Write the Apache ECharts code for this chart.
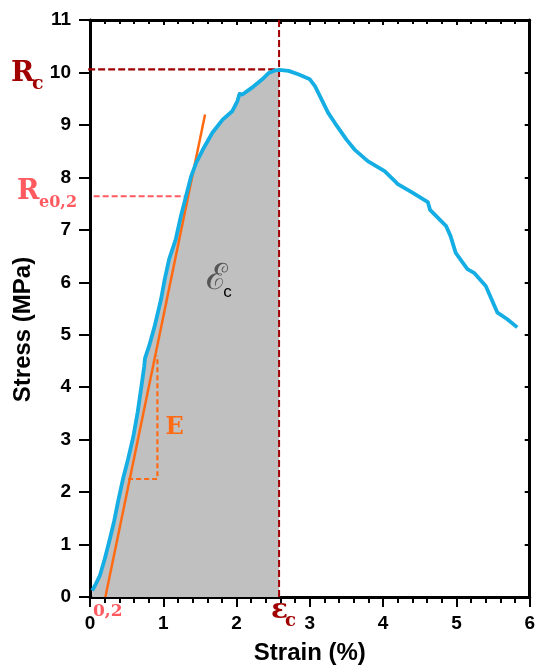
<!DOCTYPE html>
<html>
<head>
    <meta charset="utf-8" />
    <title>Stress-strain</title>
    <script src="https://cdn.jsdelivr.net/npm/echarts@6/dist/echarts.min.js"></script>
    <style>
        html, body { margin: 0; padding: 0; background: #fff; }
        #chart { width: 538px; height: 670px; }
    </style>
</head>
<body>
<div id="chart"></div>
<script type="text/javascript">
    // curve (strain %, stress MPa)
    var strain = [0.03, 0.08, 0.135, 0.2, 0.27, 0.33, 0.38, 0.45, 0.52, 0.59, 0.65, 0.71, 0.74, 0.75, 0.81, 0.88, 0.97, 1.02,
        1.08, 1.17, 1.24, 1.31, 1.38, 1.45, 1.54, 1.67, 1.81, 1.94, 2.01, 2.04, 2.08, 2.21, 2.35, 2.44, 2.53, 2.58,
        2.71, 2.85, 3.0, 3.07, 3.25, 3.34, 3.5, 3.61, 3.79, 4.02, 4.16, 4.2, 4.4, 4.61, 4.64, 4.86, 4.92, 4.99,
        5.15, 5.24, 5.4, 5.56, 5.69, 5.83];
    var stress = [0.12, 0.25, 0.41, 0.72, 1.10, 1.45, 1.80, 2.25, 2.63, 3.05, 3.52, 4.10, 4.40, 4.55, 4.80, 5.15, 5.68, 6.06,
        6.44, 6.82, 7.26, 7.64, 8.02, 8.28, 8.53, 8.85, 9.10, 9.26, 9.45, 9.59, 9.58, 9.71, 9.87, 9.99, 10.04, 10.05,
        10.03, 9.96, 9.87, 9.74, 9.23, 9.04, 8.72, 8.53, 8.31, 8.12, 7.93, 7.87, 7.71, 7.53, 7.38, 7.07, 6.88, 6.56,
        6.25, 6.18, 5.93, 5.42, 5.30, 5.14];

    var ecStrain = 2.58;     // strain at peak
    var rcStress = 10.06;    // peak stress
    var reStress = 7.64;     // 0.2% offset yield
    var reStrain = 1.31;
    var leftRef = -0.025;    // dashed reference at zero strain
    var slopeLine = [[0.21, 0], [1.57, 9.2]];        // modulus line
    var triangle = [[0.52, 2.25], [0.92, 2.25], [0.92, 4.6]];

    var xTicks = [0, 1, 2, 3, 4, 5, 6];
    var yTicks = [0, 1, 2, 3, 4, 5, 6, 7, 8, 9, 10, 11];

    var curve = [];
    var area = [];
    for (var i = 0; i < strain.length; i++) {
        curve.push([strain[i], stress[i]]);
        if (strain[i] <= ecStrain) area.push([strain[i], stress[i]]);
    }

    var darkRed = '#a00000';
    var pink = '#ff5a5f';
    var orange = '#ff6a13';
    var blue = '#14ade4';
    var sans = 'Liberation Sans, Arial, sans-serif';
    var serif = 'DejaVu Serif, serif';

    var myChart = echarts.init(document.getElementById('chart'));

    function dashed(data, color, width, dash, z) {
        return {
            type: 'line', data: data, symbol: 'none', silent: true, clip: false, z: z || 3,
            lineStyle: { color: color, width: width, type: dash }
        };
    }

    myChart.setOption({
        animation: false,
        grid: { left: 90, right: 5, top: 20, bottom: 72 },
        xAxis: [{
            type: 'value', min: xTicks[0], max: xTicks[xTicks.length - 1], interval: 1,
            name: 'Strain (%)', nameLocation: 'middle', nameGap: 44,
            nameTextStyle: { fontFamily: sans, fontWeight: 'bold', fontSize: 24, color: '#000' },
            axisLine: { onZero: false, lineStyle: { color: '#000', width: 3 } },
            axisTick: { length: 10, lineStyle: { color: '#000', width: 2 } },
            minorTick: { show: true, splitNumber: 5, length: 6, lineStyle: { color: '#000', width: 2 } },
            axisLabel: { margin: 17, fontFamily: sans, fontWeight: 'bold', fontSize: 19, color: '#000' },
            splitLine: { show: false }
        }, {
            type: 'value', position: 'top', min: 0, max: 6, interval: 1,
            axisLine: { onZero: false, lineStyle: { color: '#000', width: 3 } },
            axisTick: { inside: true, length: 5, lineStyle: { color: '#000', width: 2 } },
            minorTick: { show: true, splitNumber: 5, length: 4, lineStyle: { color: '#000', width: 2 } },
            axisLabel: { show: false },
            splitLine: { show: false }
        }],
        yAxis: [{
            type: 'value', min: yTicks[0], max: yTicks[yTicks.length - 1], interval: 1,
            name: 'Stress (MPa)', nameLocation: 'middle', nameGap: 55,
            nameTextStyle: { fontFamily: sans, fontWeight: 'bold', fontSize: 24, color: '#000', padding: [0, 42, 0, 0] },
            axisLine: { onZero: false, lineStyle: { color: '#000', width: 3 } },
            axisTick: { length: 11, lineStyle: { color: '#000', width: 2 } },
            axisLabel: { margin: 19, fontFamily: sans, fontWeight: 'bold', fontSize: 19, color: '#000' },
            splitLine: { show: false }
        }, {
            type: 'value', position: 'right', min: 0, max: 11, interval: 1,
            axisLine: { onZero: false, lineStyle: { color: '#000', width: 3 } },
            axisTick: { inside: true, length: 5, lineStyle: { color: '#000', width: 2 } },
            axisLabel: { show: false },
            splitLine: { show: false }
        }],
        series: [
            {
                type: 'line', data: area, symbol: 'none', silent: true, z: 1,
                lineStyle: { width: 0 },
                areaStyle: { color: '#c0c0c0', opacity: 1 }
            },
            dashed([[leftRef, 0], [leftRef, 11]], darkRed, 1.5, [7, 4]),
            dashed([[leftRef, rcStress], [ecStrain, rcStress]], darkRed, 2.2, [7, 3]),
            dashed([[ecStrain, 0], [ecStrain, 11]], darkRed, 2, [7, 3]),
            dashed([[0.05, reStress], [reStrain, reStress]], pink, 2, [6, 3]),
            dashed(triangle, orange, 2.2, [5, 3]),
            {
                type: 'line', data: slopeLine, symbol: 'none', silent: true, z: 4,
                lineStyle: { color: orange, width: 2.5 }
            },
            {
                type: 'line', data: curve, symbol: 'none', silent: true, z: 5,
                lineStyle: { color: blue, width: 3.8, join: 'round' }
            }
        ]
    });

    // annotation texts placed around their data anchors
    function px(p) { return myChart.convertToPixel({ gridIndex: 0 }, p); }
    var o = px([0, 0]);
    var rc = px([0, rcStress]);
    var re = px([0, reStress]);
    var ec = px([ecStrain, 0]);
    var eTri = px([triangle[1][0], (triangle[1][1] + triangle[2][1]) / 2]);
    var energy = px([1.6, 6.0]);

    function txt(x, y, s, size, color, font, weight) {
        return {
            type: 'text', x: x, y: y, silent: true, z: 10,
            style: {
                text: s, fill: color, fontSize: size, fontFamily: font, fontWeight: weight || 'bold',
                verticalAlign: 'middle', align: 'left'
            }
        };
    }

    myChart.setOption({
        graphic: [
            txt(rc[0] - 79, rc[1] + 4, 'R', 28, darkRed, serif),
            txt(rc[0] - 58, rc[1] + 15, 'c', 19, darkRed, serif),
            txt(re[0] - 73, re[1] - 4, 'R', 27, pink, serif),
            txt(re[0] - 51, re[1] + 7, 'e0,2', 16, pink, serif),
            txt(o[0] + 3, o[1] + 15, '0,2', 17, pink, serif),
            txt(ec[0] - 8, ec[1] + 14, '\u03b5', 28, darkRed, serif),
            txt(ec[0] + 6, ec[1] + 24, 'c', 18, darkRed, serif),
            txt(eTri[0] + 8, eTri[1] + 10, 'E', 24, orange, serif),
            txt(energy[0] - 1, energy[1] - 3, '\u2130', 36, '#555', serif, 'normal'),
            txt(energy[0] + 16, energy[1] + 10, 'c', 17, '#000', sans, 'normal')
        ]
    });
</script>
</body>
</html>
